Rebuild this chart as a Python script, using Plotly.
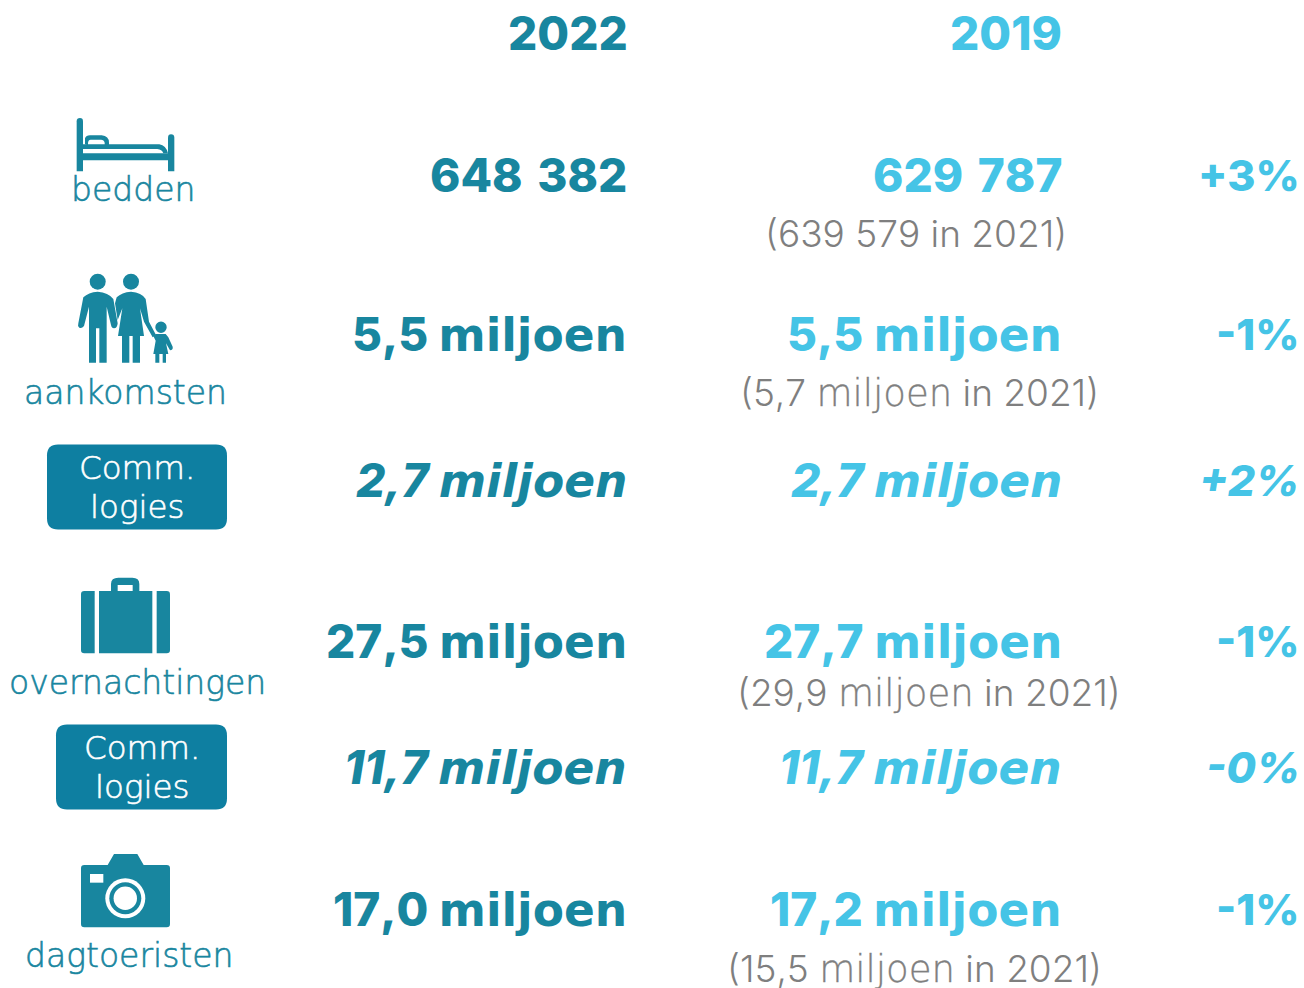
import re
import plotly.graph_objects as go

DARK = "#18869F"
BADGE = "#0E7FA1"
LIGHT = "#45C4E6"
GREY = "#7F7F7F"
FONT = "Inter"
WORD = "DejaVu Sans"

years = ["2022", "2019"]
labels = ["bedden", "aankomsten", "overnachtingen", "dagtoeristen"]
values_2022 = ["648 382", "5,5 miljoen", "2,7 miljoen", "27,5 miljoen", "11,7 miljoen", "17,0 miljoen"]
values_2019 = ["629 787", "5,5 miljoen", "2,7 miljoen", "27,7 miljoen", "11,7 miljoen", "17,2 miljoen"]
changes = ["+3%", "-1%", "+2%", "-1%", "-0%", "-1%"]
notes_2021 = ["(639 579 in 2021)", "(5,7 miljoen in 2021)", "(29,9 miljoen in 2021)", "(15,5 miljoen in 2021)"]
badge_lines = ["Comm.", "logies"]

row_y = [175, 334, 480, 641, 767, 909]
italic_rows = [2, 4]
label_pos = [(133, 189), (125, 392), (137, 682), (129, 955)]
note_pos = [(1069, 233), (1101, 392), (1123, 692), (1104, 968)]
badge_boxes = [(47, 227, 444.5, 529.5, 137, 468, 507), (56, 227, 724.5, 809.5, 142, 748, 787)]

fig = go.Figure()


def text(s, x, y, size, color, anchor="right", weight=700, italic=False, family=FONT):
    fig.add_annotation(x=x, y=y, text=s, showarrow=False, xanchor=anchor, yanchor="middle",
                       xref="x", yref="y", align=anchor,
                       font=dict(family=family, size=size, color=color, weight=weight,
                                 style="italic" if italic else "normal"))


def big(s):
    if "miljoen" in s:
        num = s.replace(" miljoen", "")
        return (f"<span style='font-kerning:none'>{num} </span>"
                f"<span style='font-family:{WORD};font-size:45.5px;font-weight:700'>miljoen</span>")
    a, b = s.split(" ")
    return (f"<span style='font-kerning:none'>{a}</span>"
            f"<span style='font-family:{WORD};font-size:42px'> </span>"
            f"<span style='font-kerning:none'>{b}</span>")


def small(s, color):
    word = (f"<span style='font-family:{WORD};font-size:37px;font-weight:200;"
            f"stroke:{color};stroke-width:0.35px'>miljoen</span>")
    return "<span style='font-kerning:none'>" + s.replace("miljoen", "</span>" + word + "<span style='font-kerning:none'>") + "</span>"


def outlined(s, color, width=0.6):
    return f"<span style='stroke:{color};stroke-width:{width}px'>{s}</span>"


text(years[0], 630, 33, 46, DARK, weight=800)
text(years[1], 1064, 33, 46, LIGHT, weight=800)

for i, y in enumerate(row_y):
    it = i in italic_rows
    text(big(values_2022[i]), 629, y, 46, DARK, weight=800, italic=it)
    text(big(values_2019[i]), 1064, y, 46, LIGHT, weight=800, italic=it)
    text(changes[i], 1302, y, 43, LIGHT, weight=800, italic=it)

for s, (x, y) in zip(labels, label_pos):
    text(outlined(s, DARK), x, y, 33, DARK, anchor="center", weight=200, family=WORD)
for s, (x, y) in zip(notes_2021, note_pos):
    text(small(s, GREY), x, y, 37, GREY, weight=300)


def shape(path, fill=DARK):
    fig.add_shape(type="path", path=path, fillcolor=fill, line_width=0, xref="x", yref="y", layer="above")


def zoomed(path, oy, ox=0):
    """Convert a path sketched on a 3x crop into page pixels."""
    toks = re.findall(r"[A-Za-z]|-?[\d.]+", path)
    out, is_x = [], True
    for t in toks:
        if t.isalpha():
            out.append(t)
            is_x = True
        else:
            v = float(t) / 3 + (ox if is_x else oy)
            out.append(f"{v:.2f}")
            is_x = not is_x
    return " ".join(out)


def circle(cx, cy, r, fill):
    fig.add_shape(type="circle", x0=cx - r, x1=cx + r, y0=cy - r, y1=cy + r, fillcolor=fill,
                  line_width=0, xref="x", yref="y", layer="above")


# bed
oy = 100
shape(zoomed("M230,214 L230,64 Q230,54 240,54 Q249,54 249,64 L249,214 Z", oy))
shape(zoomed("M504,214 L504,113 Q504,103 513,103 Q523,103 523,113 L523,214 Z", oy))
shape(zoomed("M249,160 L504,160 L504,181 L249,181 Z", oy))
shape(zoomed("M249,147 L249,133 L478,133 Q498,136 504,160 L490,160 Q486,148 472,147 Z", oy))
shape(zoomed("M255,133 L255,115 Q258,106 270,106 L305,106 Q327,108 327,128 L327,136 L314,136 L314,128 Q312,119 303,119 L272,119 Q264,120 264,130 L264,136 Z", oy))

# family
circle(97.7, 281.7, 8, DARK)
circle(131, 281.7, 8, DARK)
circle(161, 327.3, 5.7, DARK)
shape(zoomed("M250,592 Q265,577 293,575 Q325,577 340,597 L353,670 Q352,685 342,685 Q335,685 333,675 L320,620 L320,788 L298,788 L298,685 L288,685 L288,788 L267,788 L267,620 L252,678 Q245,687 238,683 Q232,678 235,670 Z", oy))
shape(zoomed("M350,592 Q365,577 393,575 Q425,577 437,597 L447,665 L468,705 L458,712 L432,665 L420,625 L432,708 L420,708 L420,788 L398,788 L398,708 L388,708 L388,788 L366,788 L366,708 L354,708 L367,625 L353,660 L345,610 Z", oy))
shape(zoomed("M468,702 L497,702 L505,712 L518,740 Q520,750 510,751 L498,730 L505,762 L498,762 L498,788 L488,788 L488,762 L478,762 L478,788 L466,788 L466,762 L460,762 L467,722 L460,708 Z", oy))

# suitcase
oy = 430
shape(zoomed("M253,483 L284,483 L284,670 L253,670 Q243,670 243,660 L243,493 Q243,483 253,483 Z", oy))
shape(zoomed("M297,483 L333,483 L333,462 Q333,443 355,443 L397,443 Q418,443 418,462 L418,483 L457,483 L457,670 L297,670 Z M353,483 L398,483 L398,465 L353,465 Z", oy))
shape(zoomed("M470,483 L500,483 Q510,483 510,493 L510,660 Q510,670 500,670 L470,670 Z", oy))

# camera
oy = 710
shape(zoomed("M243,475 Q243,465 253,465 L323,465 L342,432 L412,432 L431,465 L500,465 Q510,465 510,475 L510,642 Q510,652 500,652 L253,652 Q243,652 243,642 Z", oy))
shape(zoomed("M270,492 L310,492 L310,518 L270,518 Z", oy), "white")
circle(125.3, 898.3, 20, "white")
circle(125.3, 898.3, 16, DARK)
circle(125.3, 898.3, 11.7, "white")

# badges
for x0, x1, y0, y1, tx, ty1, ty2 in badge_boxes:
    r = 11
    shape(f"M{x0+r},{y0} L{x1-r},{y0} Q{x1},{y0} {x1},{y0+r} L{x1},{y1-r} Q{x1},{y1} {x1-r},{y1} "
          f"L{x0+r},{y1} Q{x0},{y1} {x0},{y1-r} L{x0},{y0+r} Q{x0},{y0} {x0+r},{y0} Z", BADGE)
    text(outlined(badge_lines[0], "white"), tx, ty1, 32.5, "white", anchor="center", weight=200, family=WORD)
    text(outlined(badge_lines[1], "white"), tx, ty2, 32.5, "white", anchor="center", weight=200, family=WORD)

fig.update_layout(
    width=1304, height=988, autosize=False, margin=dict(l=0, r=0, t=0, b=0),
    paper_bgcolor="white", plot_bgcolor="white", showlegend=False,
    xaxis=dict(range=[0, 1304], visible=False, fixedrange=True),
    yaxis=dict(range=[988, 0], visible=False, fixedrange=True),
)
fig.write_html("out.html", config={"displayModeBar": False},
               post_script="document.body.style.margin='0';document.documentElement.style.overflow='hidden';")
